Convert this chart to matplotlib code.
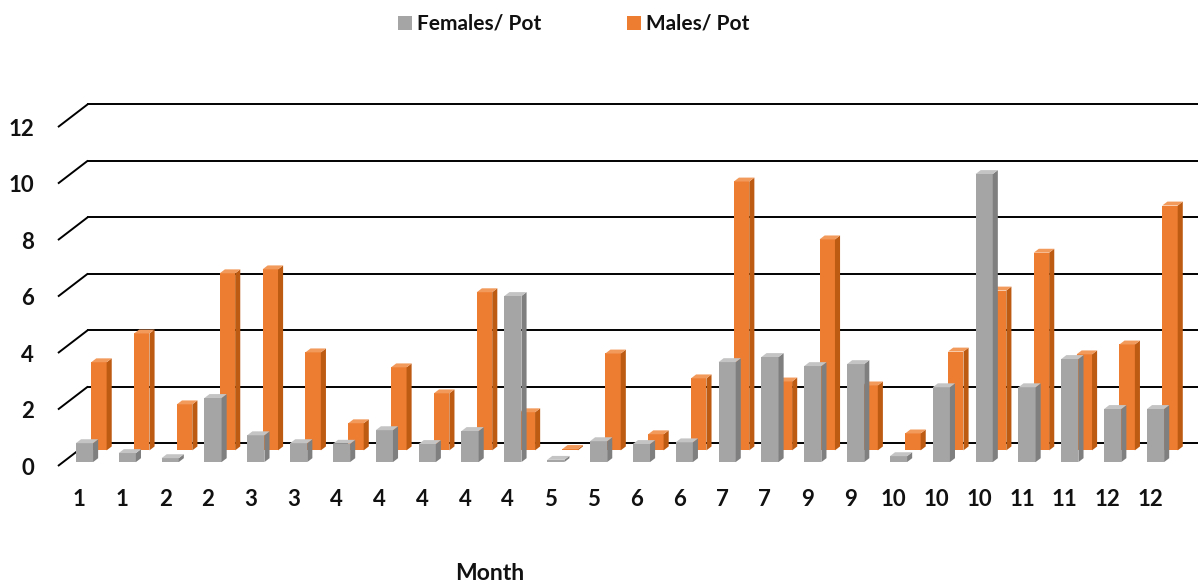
import matplotlib
matplotlib.use("Agg")
import matplotlib.pyplot as plt
from matplotlib.patches import Polygon, Rectangle

# monthly samples, two per month (4 has five)
months = [1, 1, 2, 2, 3, 3, 4, 4, 4, 4, 4, 5, 5, 6, 6, 7, 7, 9, 9, 10, 10, 10, 11, 11, 12, 12]
females = [0.67, 0.32, 0.14, 2.27, 0.95, 0.67, 0.65, 1.13, 0.64, 1.10, 5.88, 0.08, 0.74,
           0.64, 0.70, 3.54, 3.72, 3.40, 3.47, 0.21, 2.65, 10.20, 2.65, 3.65, 1.88, 1.88]
males = [3.12, 4.14, 1.63, 6.27, 6.41, 3.47, 0.96, 2.94, 2.02, 5.60, 1.35, 0.05, 3.43,
         0.57, 2.55, 9.52, 2.44, 7.47, 2.30, 0.60, 3.50, 5.66, 7.00, 3.40, 3.75, 8.67]
y_ticks = [0, 2, 4, 6, 8, 10, 12]
series_names = ["Females/ Pot", "Males/ Pot"]

# oblique projection: one unit of depth shifts by (DX, DY) in data units
DX, DY = 0.70, 0.814
BAR_T = 0.17          # bar thickness in depth units
FONT = "Lato"
TXT = "#111111"

fig = plt.figure(figsize=(11.98, 5.88), dpi=100)
ax = fig.add_axes([0, 0, 1, 1])
ax.set_xlim(-1.853, 26.11)
ax.set_ylim(-4.32, 16.50)
ax.axis("off")

# back-wall gridlines with the diagonal floor/side ticks
for v in y_ticks:
    ax.plot([-0.5, -0.5 + DX], [v, v + DY], color="black", lw=1.4, zorder=1,
            solid_capstyle="butt")
    ax.plot([-0.5 + DX, 26.2], [v + DY, v + DY], color="black", lw=1.4, zorder=1)
    ax.text(-1.06, v - 0.08, str(v), ha="right", va="center", fontsize=16,
            fontweight="bold", family=FONT, color=TXT)


def draw_series(values, depth, width, front, side, top, z):
    xs = [i - 0.2 + depth * DX for i in range(len(values))]
    y0 = depth * DY
    ax.bar(xs, values, width=width, bottom=y0, align="edge", color=front,
           linewidth=0, zorder=z)
    tx, ty = BAR_T * DX, BAR_T * DY
    for x0, v in zip(xs, values):
        x1 = x0 + width
        ax.add_patch(Polygon([(x1, y0), (x1 + tx, y0 + ty), (x1 + tx, y0 + v + ty), (x1, y0 + v)],
                             closed=True, facecolor=side, edgecolor="none", zorder=z))
        ax.add_patch(Polygon([(x0, y0 + v), (x1, y0 + v), (x1 + tx, y0 + v + ty), (x0 + tx, y0 + v + ty)],
                             closed=True, facecolor=top, edgecolor="none", zorder=z))


# males row sits behind the females row
draw_series(males, 0.68, 0.36, "#ED7D31", "#BE5B13", "#F29A5C", 2)
draw_series(females, 0.17, 0.40, "#A5A5A5", "#7F7F7F", "#C4C4C4", 3)

for i, m in enumerate(months):
    ax.text(i, -1.2, str(m), ha="center", va="center", fontsize=16,
            fontweight="bold", family=FONT, color=TXT)

fig.text(490 / 1198, 1 - 574 / 588, "Month", ha="center", va="center", fontsize=16.5,
         fontweight="bold", family=FONT, color=TXT)

# legend
for sx, color, name in [(398, "#A5A5A5", series_names[0]), (627, "#ED7D31", series_names[1])]:
    fig.patches.append(Rectangle((sx / 1198, 1 - 30 / 588), 14 / 1198, 14 / 588,
                                 transform=fig.transFigure, facecolor=color,
                                 edgecolor="none"))
    fig.text((sx + 19) / 1198, 1 - 23 / 588, name, ha="left", va="center", fontsize=15,
             fontweight="bold", family=FONT, color=TXT)

fig.savefig("out.png", dpi=100)
